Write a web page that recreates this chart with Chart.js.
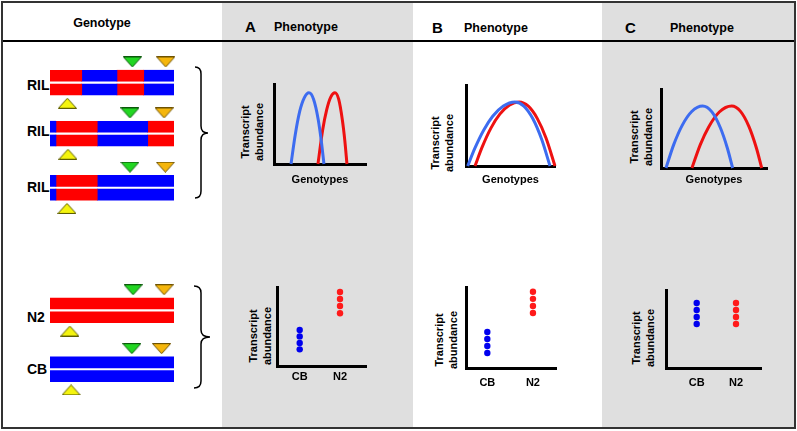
<!DOCTYPE html>
<html><head><meta charset="utf-8">
<script src="https://cdn.jsdelivr.net/npm/chart.js@4"></script>
<style>
html,body{margin:0;padding:0;background:#fff;}
#root{position:relative;width:797px;height:431px;overflow:hidden;font-family:"Liberation Sans",Arial,sans-serif;font-weight:bold;color:#000;}
.abs{position:absolute;}
.txt{position:absolute;line-height:1;white-space:nowrap;}
.ytitle{position:absolute;transform:translate(-50%,-50%) rotate(-90deg);font-size:11px;line-height:13.5px;text-align:center;white-space:nowrap;}
</style></head>
<body><div id="root">
<div class="abs" style="left:222px;top:2px;width:191px;height:426px;background:#dfdfdf"></div>
<div class="abs" style="left:602px;top:2px;width:193px;height:426px;background:#dfdfdf"></div>
<div class="abs" style="left:2px;top:40px;width:793px;height:2px;background:#000"></div>
<div class="abs" style="left:1px;top:1px;width:795px;height:428px;border:2px solid #333;box-sizing:border-box"></div>

<div class="txt" style="left:102px;top:16.5px;font-size:12.5px;transform:translateX(-50%)">Genotype</div>
<div class="txt" style="left:245px;top:18.5px;font-size:15px">A</div>
<div class="txt" style="left:274px;top:21px;font-size:12.5px">Phenotype</div>
<div class="txt" style="left:432px;top:19.5px;font-size:15px">B</div>
<div class="txt" style="left:464px;top:21.5px;font-size:12.5px">Phenotype</div>
<div class="txt" style="left:625px;top:19.5px;font-size:15px">C</div>
<div class="txt" style="left:670px;top:21.5px;font-size:12.5px">Phenotype</div>

<div class="ytitle" style="left:252px;top:132px">Transcript<br>abundance</div>
<div class="ytitle" style="left:441.5px;top:142.5px">Transcript<br>abundance</div>
<div class="ytitle" style="left:641px;top:137px">Transcript<br>abundance</div>
<div class="ytitle" style="left:259.5px;top:335.5px">Transcript<br>abundance</div>
<div class="ytitle" style="left:446px;top:340px">Transcript<br>abundance</div>
<div class="ytitle" style="left:642.5px;top:338px">Transcript<br>abundance</div>

<svg class="abs" style="left:0;top:0" width="797" height="431">
<path d="M195,67 C199,67 201,69 201,74 L201,126 C201,130 203,133 208,133 C203,133 201,136 201,140 L201,191 C201,196 199,198 195,198" fill="none" stroke="#000" stroke-width="1.5"/>
<path d="M194,286 C198,286 201,288 201,293 L201,330 C201,334 204,337 210,337 C204,337 201,340 201,344 L201,381 C201,386 198,388 194,388" fill="none" stroke="#000" stroke-width="1.5"/>
</svg>
</div>
<script>
// ================= DATA =================
const genotypeNames = ['RIL', 'RIL', 'RIL', 'N2', 'CB'];
const chromRows = ['above', 'top', 'bottom', 'below'];
// chromosome segments: [start, end, allele] along a 0-100 genome scale
const segRIL1 = [[0, 25.6, 'N2'], [25.6, 54, 'CB'], [54, 75.6, 'N2'], [75.6, 100, 'CB']];
const segRIL2 = [[0, 4.8, 'CB'], [4.8, 38.1, 'N2'], [38.1, 78.8, 'CB'], [78.8, 100, 'N2']];
const segRIL3 = [[0, 4.8, 'CB'], [4.8, 38.1, 'N2'], [38.1, 100, 'CB']];
const segN2 = [[0, 100, 'N2']];
const segCB = [[0, 100, 'CB']];
// marker positions on the same genome scale, one per genotype
const markerGreenX = [66.4, 64.5, 64.5, 67, 66];
const markerOrangeX = [93.3, 92, 93, 92, 90];
const markerYellowX = [14, 14.5, 13.7, 16, 17];

// transcript abundance curves across genotypes: [genotype, abundance]
const curveA_blue = [[18.5,0],[23,36],[28,66],[33,83],[38,89],[43,81],[48,56],[51.5,28],[54.3,0]];
const curveA_red  = [[47.8,0],[52.8,42],[57.3,68],[61.8,84],[66.3,89],[70.3,81],[74.3,55],[77,29],[79.3,0]];
const curveB_blue = [[1.9,0],[10,22],[20,44.5],[30,61.4],[42,74],[55,79],[65,74],[75,58.6],[85,33],[94.4,0]];
const curveB_red  = [[10.1,0],[18,23],[28,46.8],[38,64],[49,75.4],[59.6,79],[70,73.8],[80,58.8],[90,34.3],[100,0]];
const curveC_blue = [[4.7,0],[12,29.6],[20,54],[29,71.5],[39.3,78.5],[48,71],[56,51],[62.5,25.7],[67.6,0]];
const curveC_red  = [[29.2,0],[37,29.3],[45,52],[55,70.9],[66.7,78.5],[75,71.7],[83,52.4],[90,25.3],[95,0]];

// parental strains, transcript abundance
const dotCategories = ['CB', 'N2'];
const dotsA_groupX = [25.5, 70.8];
const dotsA_CB = [45.6, 37.5, 29.2, 21.1];
const dotsA_N2 = [93.7, 84.8, 75.9, 66.7];
const dotsB_groupX = [23.7, 74.4];
const dotsB_CB = [44.4, 35.8, 27.2, 18.5];
const dotsB_N2 = [94.2, 85.4, 76.5, 67.9];
const dotsC_groupX = [32.3, 73.7];
const dotsC_CB = [83.3, 74.4, 65.4, 56.4];
const dotsC_N2 = [83.3, 74.4, 65.4, 56.4];

// ================= STYLE / LAYOUT =================
Chart.defaults.font.family = '"Liberation Sans", Arial, sans-serif';
Chart.defaults.color = '#000';
const alleleColor = { N2: '#ff0000', CB: '#0000ff' };
const curveBlue = '#3d6cf0', curveRed = '#ee1111';
const dotBlue = '#0000ee', dotRed = '#ff1a1a';
const root = document.getElementById('root');

function mkCanvas(area, m) {
  const cl = Math.floor(area.l - m.l), ct = Math.floor(area.t - m.t);
  const cr = Math.ceil(area.r + m.r), cb = Math.ceil(area.b + m.b);
  const c = document.createElement('canvas');
  c.width = cr - cl; c.height = cb - ct;
  c.style.cssText = `position:absolute;left:${cl}px;top:${ct}px;width:${cr-cl}px;height:${cb-ct}px;`;
  root.appendChild(c);
  return { c, pad: { left: area.l - cl, top: area.t - ct, right: cr - area.r, bottom: cb - area.b } };
}
function tri(fill, stroke, down) {
  const c = document.createElement('canvas'); c.width = 19; c.height = 11;
  const x = c.getContext('2d');
  x.beginPath();
  if (down) { x.moveTo(0.5, 0.5); x.lineTo(18.5, 0.5); x.lineTo(9.5, 10.5); }
  else { x.moveTo(9.5, 0.5); x.lineTo(18.5, 10.5); x.lineTo(0.5, 10.5); }
  x.closePath(); x.fillStyle = fill; x.fill(); x.strokeStyle = stroke; x.lineWidth = 1; x.stroke();
  return c;
}
const triGreen = tri('#22d622', '#0a5a0a', true);
const triOrange = tri('#f5b60c', '#6e5200', true);
const triYellow = tri('#f4f40e', '#5e5e00', false);
const baseOpts = { responsive: false, animation: false, events: [], plugins: { legend: { display: false }, tooltip: { enabled: false } } };

function genoChart(segs, gi, area) {
  const { c, pad } = mkCanvas(area, { l: 12, t: 4, r: 12, b: 4 });
  const datasets = segs.map(s => ({
    type: 'bar', indexAxis: 'y', grouped: false, barThickness: 11, borderWidth: 0,
    data: chromRows.map(r => (r === 'top' || r === 'bottom') ? [s[0], s[1]] : null),
    backgroundColor: alleleColor[s[2]]
  }));
  const mk = (xs, row, style) => ({ type: 'scatter', data: [{ x: xs[gi], y: row }], pointStyle: style, pointRadius: 9, clip: false });
  datasets.push(mk(markerGreenX, 'above', triGreen), mk(markerOrangeX, 'above', triOrange), mk(markerYellowX, 'below', triYellow));
  new Chart(c, {
    type: 'bar', data: { labels: chromRows, datasets },
    options: Object.assign({}, baseOpts, {
      indexAxis: 'y', layout: { padding: pad, autoPadding: false },
      scales: { x: { type: 'linear', min: 0, max: 100, display: false }, y: { type: 'category', labels: chromRows, offset: true, display: false } }
    })
  });
}
const axisCommon = { grid: { display: false, drawTicks: false }, border: { display: true, color: '#000', width: 3 } };
function curveChart(area, blue, red) {
  const H = 186.6 - area.b;
  const { c, pad } = mkCanvas(area, { l: 6, t: 6, r: 6, b: H });
  pad.bottom -= H;
  const ds = (pts, col) => ({ data: pts.map(p => ({ x: p[0], y: p[1] })), borderColor: col, borderWidth: 3, pointRadius: 0, cubicInterpolationMode: 'monotone', clip: false, fill: false });
  new Chart(c, {
    type: 'line', data: { datasets: [ds(blue, curveBlue), ds(red, curveRed)] },
    options: Object.assign({}, baseOpts, {
      layout: { padding: pad, autoPadding: false },
      scales: {
        x: Object.assign({ type: 'linear', min: 0, max: 100, ticks: { display: false },
          title: { display: true, text: 'Genotypes', font: { size: 11, weight: 'bold' }, color: '#000', padding: 0 },
          afterFit: s => { s.height = H; } }, axisCommon),
        y: Object.assign({ type: 'linear', min: 0, max: 100, ticks: { display: false }, afterFit: s => { s.width = 0; } }, axisCommon)
      }
    })
  });
}
function dotChart(area, groupX, cbVals, n2Vals, tickPad) {
  const H = 30;
  const { c, pad } = mkCanvas(area, { l: 6, t: 6, r: 6, b: H });
  pad.bottom -= H;
  const ds = (gx, vals, col) => ({ data: vals.map(v => ({ x: gx, y: v })), backgroundColor: col, borderWidth: 0, pointRadius: 3.2, clip: false });
  new Chart(c, {
    type: 'scatter', data: { datasets: [ds(groupX[0], cbVals, dotBlue), ds(groupX[1], n2Vals, dotRed)] },
    options: Object.assign({}, baseOpts, {
      layout: { padding: pad, autoPadding: false },
      scales: {
        x: Object.assign({ type: 'linear', min: 0, max: 100,
          afterBuildTicks: s => { s.ticks = groupX.map(v => ({ value: v })); },
          ticks: { callback: (v, i) => dotCategories[i], padding: tickPad, font: { size: 11, weight: 'bold' }, color: '#000', autoSkip: false, maxRotation: 0 },
          afterFit: s => { s.height = H; } }, axisCommon),
        y: Object.assign({ type: 'linear', min: 0, max: 100, ticks: { display: false }, afterFit: s => { s.width = 0; } }, axisCommon)
      }
    })
  });
}

// genotype strip labels
const labelY = [84.7, 131, 187, 316.5, 368.5];
genotypeNames.forEach((n, i) => {
  const d = document.createElement('div');
  d.className = 'txt'; d.textContent = n;
  d.style.cssText = `left:27px;top:${labelY[i] - 7}px;font-size:14px;`;
  root.appendChild(d);
});

const genoTops = [55.1, 106.1, 160.3, 282.9, 341.8];
[segRIL1, segRIL2, segRIL3, segN2, segCB].forEach((s, i) => genoChart(s, i, { l: 50, r: 174, t: genoTops[i], b: genoTops[i] + 55 }));

curveChart({ l: 274, t: 84, r: 366, b: 164 }, curveA_blue, curveA_red);
curveChart({ l: 466, t: 85, r: 555, b: 166 }, curveB_blue, curveB_red);
curveChart({ l: 661, t: 89, r: 767, b: 168 }, curveC_blue, curveC_red);

dotChart({ l: 277, t: 287, r: 366, b: 366 }, dotsA_groupX, dotsA_CB, dotsA_N2, 4.5);
dotChart({ l: 466, t: 287, r: 556, b: 368 }, dotsB_groupX, dotsB_CB, dotsB_N2, 8.5);
dotChart({ l: 666, t: 290, r: 761, b: 368 }, dotsC_groupX, dotsC_CB, dotsC_N2, 8.5);
</script>
</body></html>
